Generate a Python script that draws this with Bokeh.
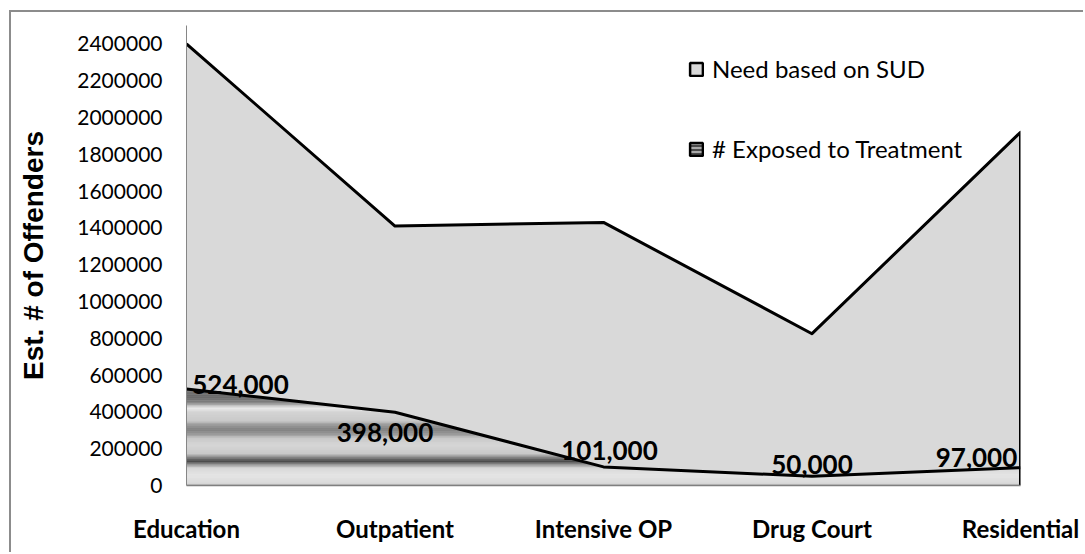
import numpy as np
from bokeh.plotting import figure
from bokeh.models import (Range1d, FixedTicker, NumeralTickFormatter, Legend,
                          LegendItem, ColumnDataSource)
from bokeh.core.properties import value
from bokeh.embed import file_html
from bokeh.resources import INLINE

# ---------------- data ----------------
categories = ["Education", "Outpatient", "Intensive OP", "Drug Court", "Residential"]
need_sud = [2400000, 1410000, 1430000, 825000, 1920000]
exposed = [524000, 398000, 101000, 50000, 97000]
exposed_labels = ["524,000", "398,000", "101,000", "50,000", "97,000"]
y_ticks = [0, 200000, 400000, 600000, 800000, 1000000, 1200000, 1400000,
           1600000, 1800000, 2000000, 2200000, 2400000]

# label nudges (screen px) and metallic gradient stops (fraction, grey level)
label_dx = [54, -10, 6, 0, -44]
label_dy = [-5, 20, -16, -12, -10]
grad_stops = [(0.00, 0xa8), (0.02, 0xd8), (0.10, 0xe6), (0.18, 0xd8), (0.22, 0x90),
              (0.25, 0x45), (0.29, 0x80), (0.33, 0xc8), (0.42, 0xd6), (0.49, 0xc8),
              (0.53, 0x98), (0.58, 0x80), (0.63, 0x98), (0.67, 0xc8), (0.76, 0xd4),
              (0.80, 0xea), (0.82, 0xd0), (0.86, 0x80), (0.92, 0x68), (1.00, 0x78)]

x = np.arange(len(categories))

p = figure(width=1074, height=542, output_backend="svg", toolbar_location=None,
           x_range=Range1d(0, len(categories) - 1), y_range=Range1d(0, 2500000),
           min_border_left=175, min_border_right=65, min_border_top=13,
           min_border_bottom=69)
p.styles = {"border-left": "2px solid #8c8c8c", "border-top": "2px solid #8c8c8c",
            "margin-left": "9px", "margin-top": "10px"}
p.outline_line_color = None
p.grid.visible = False
p.background_fill_color = "white"

# Need area
p.varea(x=x, y1=0, y2=need_sud, fill_color="#d9d9d9")

# Exposed area with metallic horizontal gradient
xs_dense = np.linspace(0, len(categories) - 1, 1201)
ex_dense = np.interp(xs_dense, x, exposed)
top = max(exposed)
n_bands = 140
fr = [s[0] for s in grad_stops]
gv = [s[1] for s in grad_stops]
edges = np.linspace(0, top, n_bands + 1)
bh = edges[1] - edges[0]
for i in range(n_bands):
    a, b = edges[i], edges[i + 1]
    f = (a + b) / 2 / top
    g = int(round(np.interp(f, fr, gv)))
    col = "#%02x%02x%02x" % (g, g, g)
    y2 = np.clip(ex_dense, a, b + bh * 0.6)
    p.varea(x=xs_dense, y1=a, y2=y2, fill_color=col)

# outlines
p.line(list(x) + [x[-1]], need_sud + [0], line_color="black", line_width=3,
       line_join="round")
p.line(x, exposed, line_color="black", line_width=3, line_join="round")

# data labels
src = ColumnDataSource(dict(x=x, y=exposed, t=exposed_labels, dx=label_dx, dy=label_dy))
p.text(x="x", y="y", text="t", x_offset="dx", y_offset="dy", source=src,
       text_align="center", text_baseline="middle", text_font=value("Lato"),
       text_font_style="bold", text_font_size="26px", text_color="black")

# legend with placeholder glyphs (NaN -> nothing drawn in the plot)
nan = [float("nan")]
r_need_leg = p.quad(left=nan, right=nan, top=nan, bottom=nan, fill_color="#d9d9d9",
                    line_color="black", line_width=2.5)
r_exp_leg = p.quad(left=nan, right=nan, top=nan, bottom=nan, fill_color="#4a4a4a",
                   line_color="black", line_width=2.5, hatch_pattern="horizontal_line",
                   hatch_color="#c8c8c8", hatch_scale=4, hatch_weight=1.5)
legend = Legend(items=[LegendItem(label="Need based on SUD", renderers=[r_need_leg]),
                       LegendItem(label="# Exposed to Treatment", renderers=[r_exp_leg])],
                location=(502, 322), border_line_color=None, background_fill_alpha=0,
                padding=0, margin=0, spacing=51, glyph_height=16, glyph_width=16,
                label_height=16, label_standoff=8, label_text_font="Lato",
                label_text_font_size="24px", label_text_color="black")
p.add_layout(legend)

# x axis
p.xaxis.ticker = FixedTicker(ticks=list(x))
p.xaxis.major_label_overrides = {int(i): c for i, c in zip(x, categories)}
p.xaxis.major_tick_line_color = None
p.xaxis.minor_tick_line_color = None
p.xaxis.major_label_standoff = 22
p.xaxis.major_label_text_font = "Lato"
p.xaxis.major_label_text_font_style = "bold"
p.xaxis.major_label_text_font_size = "24px"
p.xaxis.major_label_text_color = "black"
p.xaxis.axis_line_color = "#7f7f7f"
p.xaxis.axis_line_width = 1.5

# y axis
p.yaxis.ticker = FixedTicker(ticks=y_ticks)
p.yaxis.formatter = NumeralTickFormatter(format="0")
p.yaxis.major_tick_line_color = None
p.yaxis.minor_tick_line_color = None
p.yaxis.major_label_standoff = 18
p.yaxis.major_label_text_font = "Lato"
p.yaxis.major_label_text_font_size = "21px"
p.yaxis.major_label_text_color = "black"
p.yaxis.axis_line_color = "#868686"
p.yaxis.axis_label = "Est. # of Offenders"
p.yaxis.axis_label_text_font = "Liberation Sans"
p.yaxis.axis_label_text_font_style = "bold"
p.yaxis.axis_label_text_font_size = "28px"
p.yaxis.axis_label_text_color = "black"
p.yaxis.axis_label_standoff = 25

open("out.html", "w").write(file_html(p, INLINE))
